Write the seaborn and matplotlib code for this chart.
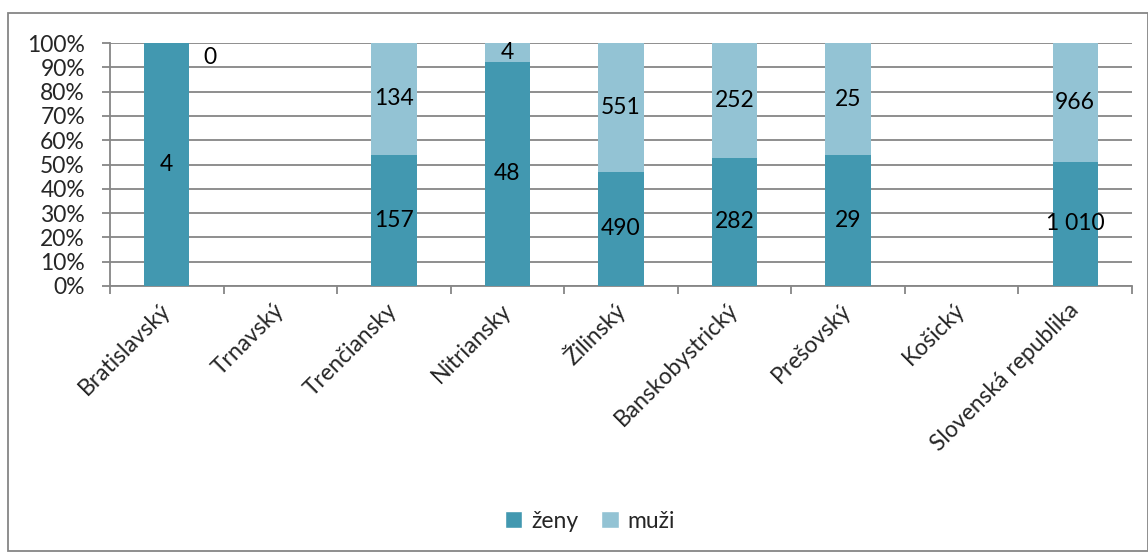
import numpy as np
import pandas as pd
import matplotlib
matplotlib.use("Agg")
import matplotlib.pyplot as plt
import seaborn as sns
from matplotlib.patches import Rectangle, Patch

categories = ["Bratislavský", "Trnavský", "Trenčiansky", "Nitriansky", "Žilinský",
              "Banskobystrický", "Prešovský", "Košický", "Slovenská republika"]
zeny = [4, np.nan, 157, 48, 490, 282, 29, np.nan, 1010]
muzi = [0, np.nan, 134, 4, 551, 252, 25, np.nan, 966]
yticks = list(range(0, 101, 10))
series_names = ["ženy", "muži"]

c_zeny = "#4298B0"
c_muzi = "#93C3D4"
grid_c = "#868686"

sns.set_theme(style="white")
plt.rcParams["font.family"] = ["Lato", "DejaVu Sans"]

df = pd.DataFrame({"kraj": categories, "zeny": zeny, "muzi": muzi})
df["total"] = df["zeny"] + df["muzi"]
df["p_zeny"] = df["zeny"] / df["total"] * 100
df["p_all"] = (df["zeny"] + df["muzi"]) / df["total"] * 100

fig = plt.figure(figsize=(11.48, 5.52), dpi=100)
ax = fig.add_axes([110 / 1148, 1 - 286 / 552, (1132 - 110) / 1148, (286 - 43) / 552])

sns.barplot(data=df, x="kraj", y="p_all", order=categories, color=c_muzi,
            saturation=1, width=0.4, errorbar=None, ax=ax, zorder=3, linewidth=0)
sns.barplot(data=df, x="kraj", y="p_zeny", order=categories, color=c_zeny,
            saturation=1, width=0.4, errorbar=None, ax=ax, zorder=3, linewidth=0)

def fmt(v):
    return f"{int(v):,}".replace(",", " ")

fs = 16.5
for i, row in df.iterrows():
    if np.isnan(row["total"]):
        continue
    ax.text(i, row["p_zeny"] / 2, fmt(row["zeny"]), ha="center", va="center",
            fontsize=fs, color="black", zorder=5)
    if row["muzi"] == 0:
        ax.text(i + 0.38, 94, fmt(row["muzi"]), ha="center", va="center",
                fontsize=fs, color="black", zorder=5)
    else:
        ax.text(i, row["p_zeny"] + (100 - row["p_zeny"]) / 2, fmt(row["muzi"]),
                ha="center", va="center", fontsize=fs, color="black", zorder=5)

ax.set_xlim(-0.5, len(categories) - 0.5)
ax.set_ylim(0, 100)
ax.set_yticks(yticks)
ax.set_yticklabels([f"{t}%" for t in yticks], fontsize=fs)
ax.yaxis.grid(True, color=grid_c, linewidth=1.3, zorder=0)
ax.xaxis.grid(False)
ax.set_axisbelow(True)
ax.set_xlabel("")
ax.set_ylabel("")

ax.set_xticks(range(len(categories)))
ax.set_xticklabels(categories, rotation=45, ha="right", va="center",
                   rotation_mode="anchor", fontsize=fs)
ax.set_xticks(np.arange(-0.5, len(categories)), minor=True)
ax.tick_params(axis="x", which="major", length=0, pad=15)
ax.tick_params(axis="x", which="minor", length=6, color=grid_c, width=1.3, direction="out", bottom=True)
ax.tick_params(axis="y", length=6, color=grid_c, width=1.3, direction="out", left=True, pad=12)

for s in ["top", "right"]:
    ax.spines[s].set_visible(False)
for s in ["left", "bottom"]:
    ax.spines[s].set_color(grid_c)
    ax.spines[s].set_linewidth(1.3)

handles = [Patch(facecolor=c_zeny, label=series_names[0]),
           Patch(facecolor=c_muzi, label=series_names[1])]
fig.legend(handles=handles, loc="center", bbox_to_anchor=(590 / 1148, 1 - 521 / 552), ncol=2,
           frameon=False, fontsize=fs, handlelength=0.75, handleheight=0.75,
           handletextpad=0.4, columnspacing=1.0)

fig.patches.append(Rectangle((8 / 1148, 0.001), 1 - 8 / 1148, 1 - 13 / 552 - 0.001,
                             transform=fig.transFigure, fill=False,
                             edgecolor=grid_c, linewidth=1.3))

fig.savefig("out.png", dpi=100)
